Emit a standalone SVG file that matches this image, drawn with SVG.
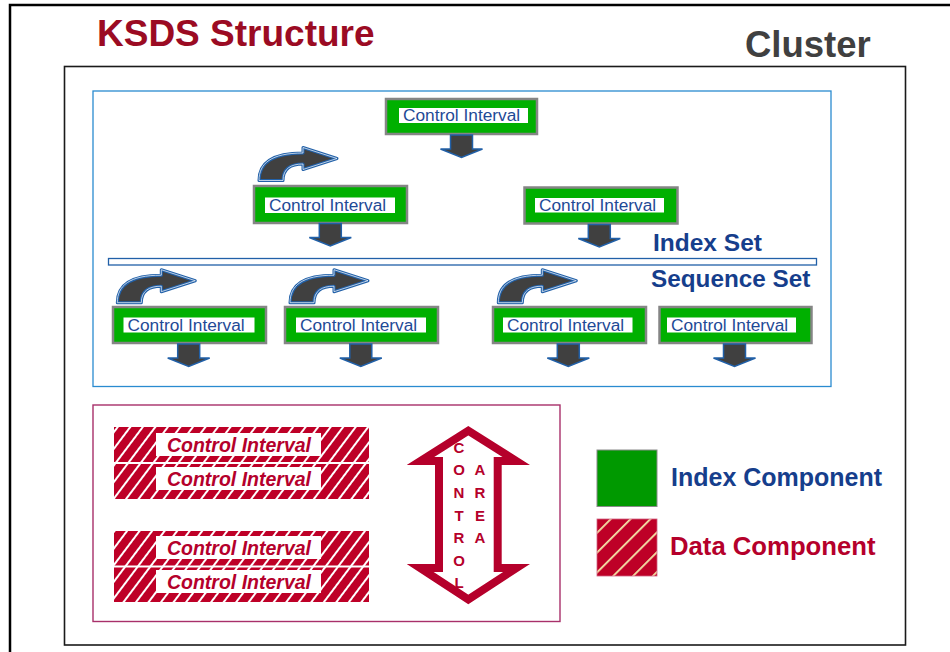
<svg xmlns="http://www.w3.org/2000/svg" width="950" height="652" viewBox="0 0 950 652">
  <style>
    .ci-box { fill: #00B000; stroke: #858585; stroke-width: 2.5; }
    .ci-label { fill: #ffffff; }
    .ci-text { font-family: "Liberation Sans", Arial, sans-serif; font-size: 17.3px; fill: #1F4A96; }
    .down { fill: #404040; stroke: #2160A8; stroke-width: 1.5; stroke-linejoin: miter; }
    .bend { fill: #404040; stroke: #2160A8; stroke-width: 3; stroke-linejoin: round; }
    .bend-inner { fill: none; stroke: #ffffff; stroke-width: 0.7; stroke-linejoin: round; }
    .heading { font-family: "Liberation Sans", Arial, sans-serif; font-weight: bold; }
    .data-bar { fill: url(#hatch); }
    .data-label { fill: #ffffff; }
    .data-text { font-family: "Liberation Sans", Arial, sans-serif; font-size: 19.5px; font-weight: bold; font-style: italic; fill: #B5002B; text-anchor: middle; }
    .ca-text { font-family: "Liberation Sans", Arial, sans-serif; font-size: 15px; font-weight: bold; fill: #B5002B; text-anchor: middle; }
  </style>
  <defs>
    <!-- white diagonal hatching on red for the data control intervals -->
    <pattern id="hatch" patternUnits="userSpaceOnUse" width="10" height="10" patternTransform="rotate(37)">
      <rect width="10" height="10" fill="#BE0027"/>
      <rect width="2" height="10" fill="#ffffff"/>
    </pattern>
    <!-- cream hatching for the legend swatch -->
    <pattern id="hatch-legend" patternUnits="userSpaceOnUse" width="14" height="14" patternTransform="rotate(45)">
      <rect width="14" height="14" fill="#BE0027"/>
      <rect width="1.8" height="14" fill="#F5E6A8"/>
    </pattern>
    <!-- block arrow pointing down, origin at top centre -->
    <path id="down-arrow" d="M-11 0 H11 V14 H21 L0 22.5 L-21 14 H-11 Z"/>
    <!-- curved arrow bending up and to the right, origin at bottom-left of its base -->
    <path id="bend-arrow" d="M0 0 C0 -17 12 -27.5 44 -27.5 L44 -33 L78 -22 L44 -11 L44 -16.5 C32 -16.5 24 -12 24 0 Z"/>
    <clipPath id="ca-clip">
      <polygon points="468.3,426 530,465 501.7,465 501.7,564 530,564 468.3,604.3 406.7,564 435,564 435,465 406.7,465"/>
    </clipPath>
  </defs>

  <rect width="950" height="652" fill="#ffffff"/>

  <!-- page frame -->
  <rect x="10" y="5" width="960" height="670" fill="none" stroke="#000000" stroke-width="2.5"/>

  <text class="heading" x="97" y="46" font-size="37" fill="#9B0B23">KSDS Structure</text>
  <text class="heading" x="745" y="57" font-size="36.5" fill="#404040">Cluster</text>

  <!-- cluster frame -->
  <rect x="64.5" y="66.5" width="841" height="578.5" fill="none" stroke="#1a1a1a" stroke-width="1.6"/>

  <!-- index component frame -->
  <rect x="93" y="91" width="738" height="295.5" fill="none" stroke="#2A8BD0" stroke-width="1.3"/>

  <!-- divider between index set and sequence set -->
  <rect x="108.5" y="258.5" width="708" height="6.5" fill="#ffffff" stroke="#2160A8" stroke-width="1.3"/>
  <text class="heading" x="653" y="251" font-size="24.5" fill="#163E8C">Index Set</text>
  <text class="heading" x="651" y="287" font-size="24.3" fill="#163E8C">Sequence Set</text>

  <!-- index set control intervals -->
  <g id="ci-index-top">
    <rect class="ci-box" x="386" y="99" width="151" height="35"/>
    <rect class="ci-label" x="399" y="108" width="129" height="15"/>
    <text class="ci-text" x="403" y="121">Control Interval</text>
  </g>
  <g id="ci-index-left">
    <rect class="ci-box" x="254" y="186" width="153" height="37"/>
    <rect class="ci-label" x="265" y="197.5" width="130" height="15.5"/>
    <text class="ci-text" x="269" y="211">Control Interval</text>
  </g>
  <g id="ci-index-right">
    <rect class="ci-box" x="524.5" y="187.5" width="153" height="36"/>
    <rect class="ci-label" x="535" y="198" width="129" height="14.5"/>
    <text class="ci-text" x="539" y="211">Control Interval</text>
  </g>

  <!-- sequence set control intervals -->
  <g id="ci-seq-1">
    <rect class="ci-box" x="113" y="307" width="153" height="36"/>
    <rect class="ci-label" x="123.5" y="317.5" width="131" height="15"/>
    <text class="ci-text" x="127.5" y="330.5">Control Interval</text>
  </g>
  <g id="ci-seq-2">
    <rect class="ci-box" x="285" y="307" width="153" height="36"/>
    <rect class="ci-label" x="296" y="317.5" width="130" height="15"/>
    <text class="ci-text" x="300" y="330.5">Control Interval</text>
  </g>
  <g id="ci-seq-3">
    <rect class="ci-box" x="493" y="307" width="153" height="36"/>
    <rect class="ci-label" x="503" y="317.5" width="129.5" height="15"/>
    <text class="ci-text" x="507" y="330.5">Control Interval</text>
  </g>
  <g id="ci-seq-4">
    <rect class="ci-box" x="659.5" y="307" width="152" height="36"/>
    <rect class="ci-label" x="667" y="317.5" width="129" height="15"/>
    <text class="ci-text" x="671" y="330.5">Control Interval</text>
  </g>

  <!-- arrows between control intervals -->
  <g id="connectors">
    <use href="#down-arrow" class="down" transform="translate(461.5 135)"/>
    <use href="#down-arrow" class="down" transform="translate(330.3 223.5)"/>
    <use href="#down-arrow" class="down" transform="translate(599.3 224.5)"/>
    <use href="#down-arrow" class="down" transform="translate(188.7 344)"/>
    <use href="#down-arrow" class="down" transform="translate(360.8 344)"/>
    <use href="#down-arrow" class="down" transform="translate(568.3 344)"/>
    <use href="#down-arrow" class="down" transform="translate(734.5 344)"/>

    <use href="#bend-arrow" class="bend" transform="translate(259 180.5)"/>
    <use href="#bend-arrow" class="bend-inner" transform="translate(259 180.5)"/>
    <use href="#bend-arrow" class="bend" transform="translate(117.3 302.7)"/>
    <use href="#bend-arrow" class="bend-inner" transform="translate(117.3 302.7)"/>
    <use href="#bend-arrow" class="bend" transform="translate(290 302.7)"/>
    <use href="#bend-arrow" class="bend-inner" transform="translate(290 302.7)"/>
    <use href="#bend-arrow" class="bend" transform="translate(498.3 302.7)"/>
    <use href="#bend-arrow" class="bend-inner" transform="translate(498.3 302.7)"/>
  </g>

  <!-- data component frame -->
  <rect x="93" y="405" width="467" height="216.5" fill="none" stroke="#A8306A" stroke-width="1.4"/>

  <g id="data-ci-1">
    <rect class="data-bar" x="114" y="427" width="255" height="35"/>
    <rect class="data-label" x="156" y="433" width="165" height="23"/>
    <text class="data-text" x="239" y="452">Control Interval</text>
  </g>
  <g id="data-ci-2">
    <rect class="data-bar" x="114" y="464" width="255" height="35"/>
    <rect class="data-label" x="156" y="467" width="165" height="23"/>
    <text class="data-text" x="239" y="486">Control Interval</text>
  </g>
  <g id="data-ci-3">
    <rect class="data-bar" x="114" y="531" width="255" height="34.5"/>
    <rect class="data-label" x="156" y="536" width="165" height="23"/>
    <text class="data-text" x="239" y="555">Control Interval</text>
  </g>
  <g id="data-ci-4">
    <rect class="data-bar" x="114" y="567.5" width="255" height="34.5"/>
    <rect class="data-label" x="156" y="570" width="165" height="23"/>
    <text class="data-text" x="239" y="589">Control Interval</text>
  </g>

  <!-- control area: double-headed outline arrow -->
  <g id="control-area">
    <polygon points="468.3,426 530,465 501.7,465 501.7,564 530,564 468.3,604.3 406.7,564 435,564 435,465 406.7,465"
             fill="#ffffff" stroke="#B5002B" stroke-width="16" stroke-linejoin="miter" clip-path="url(#ca-clip)"/>
    <text class="ca-text" x="459" y="452.5">C</text>
    <text class="ca-text" x="459" y="474.5">O</text>
    <text class="ca-text" x="459" y="498">N</text>
    <text class="ca-text" x="459" y="520.5">T</text>
    <text class="ca-text" x="459" y="542.5">R</text>
    <text class="ca-text" x="459" y="565.5">O</text>
    <text class="ca-text" x="459" y="588">L</text>
    <text class="ca-text" x="480" y="474.5">A</text>
    <text class="ca-text" x="480" y="498">R</text>
    <text class="ca-text" x="480" y="520.5">E</text>
    <text class="ca-text" x="480" y="542.5">A</text>
  </g>

  <!-- legend -->
  <g id="legend-index">
    <rect x="597" y="450" width="60" height="56.5" fill="#009900" stroke="#8A8A8A" stroke-width="1"/>
    <text class="heading" x="671" y="486" font-size="25" fill="#163E8C">Index Component</text>
  </g>
  <g id="legend-data">
    <rect x="597" y="519" width="60" height="57" fill="url(#hatch-legend)" stroke="#D06080" stroke-width="0.8"/>
    <text class="heading" x="670" y="555" font-size="25.7" fill="#B5002B">Data Component</text>
  </g>
</svg>
